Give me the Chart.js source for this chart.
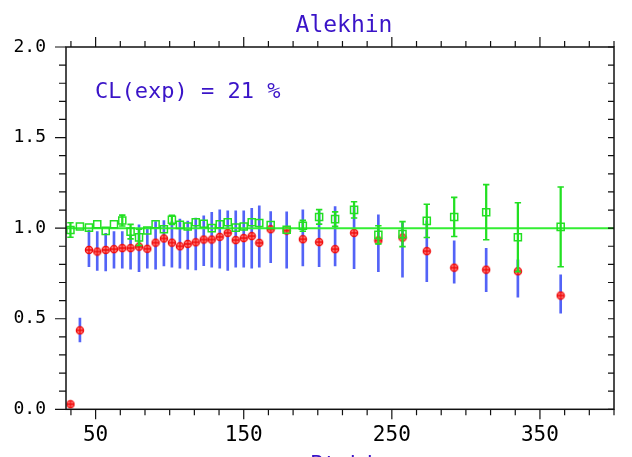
<!DOCTYPE html>
<html>
<head>
<meta charset="utf-8">
<script src="https://cdn.jsdelivr.net/npm/chart.js@4/dist/chart.umd.min.js"></script>
<style>
html, body { margin: 0; padding: 0; background: #fff; }
</style>
</head>
<body>
<canvas id="myChart" width="632" height="457"></canvas>
<script>
// bin centres (x)
const binCenters = [33.0, 39.4, 45.5, 51.1, 56.8, 62.4, 68.0, 73.6, 79.3, 84.9, 90.5, 96.1,
    101.5, 106.9, 112.2, 117.6, 123.0, 128.4, 133.8, 139.2, 144.6, 150.0, 155.4, 160.5,
    168.2, 179.0, 189.9, 200.9, 211.7, 224.5, 240.9, 257.2, 273.6, 292.1, 313.7, 335.1, 364.0];
// red circles
const ratioData = [0.028, 0.436, 0.880, 0.871, 0.880, 0.884, 0.890, 0.890, 0.898, 0.886, 0.920, 0.943,
    0.920, 0.900, 0.913, 0.922, 0.937, 0.937, 0.952, 0.974, 0.934, 0.945, 0.956, 0.919,
    0.994, 0.987, 0.939, 0.923, 0.884, 0.974, 0.932, 0.948, 0.873, 0.782, 0.771, 0.762, 0.628];
// blue bars (low / high ends)
const bandLow = [0.020, 0.372, 0.788, 0.766, 0.764, 0.779, 0.779, 0.773, 0.760, 0.779, 0.773, 0.792,
    0.785, 0.779, 0.773, 0.770, 0.793, 0.785, 0.779, 0.766, 0.785, 0.785, 0.779, 0.785,
    0.810, 0.779, 0.792, 0.788, 0.792, 0.777, 0.760, 0.729, 0.705, 0.696, 0.650, 0.619, 0.530];
const bandHigh = [0.036, 0.503, 0.990, 0.981, 0.972, 0.981, 0.981, 0.963, 1.018, 1.003, 1.036, 1.042,
    1.036, 1.050, 1.039, 1.055, 1.068, 1.088, 1.101, 1.096, 1.096, 1.096, 1.110, 1.123,
    1.092, 1.090, 1.101, 1.096, 1.119, 1.120, 1.073, 1.030, 1.040, 0.930, 0.889, 0.825, 0.742];
// green squares and their errors
const ratioFit = [0.990, 1.009, 1.003, 1.022, 0.985, 1.022, 1.042, 0.981, 0.949, 0.987, 1.022, 0.994,
    1.046, 1.018, 1.009, 1.033, 1.024, 1.000, 1.022, 1.033, 1.003, 1.009, 1.033, 1.028,
    1.017, 0.991, 1.013, 1.062, 1.050, 1.101, 0.963, 0.967, 1.040, 1.062, 1.088, 0.950, 1.007];
const fitErr = [0.040, 0.012, 0.010, 0.010, 0.010, 0.012, 0.030, 0.040, 0.045, 0.010, 0.010, 0.010,
    0.025, 0.010, 0.010, 0.012, 0.010, 0.012, 0.010, 0.015, 0.010, 0.012, 0.015, 0.010,
    0.015, 0.015, 0.030, 0.040, 0.040, 0.045, 0.050, 0.069, 0.092, 0.108, 0.152, 0.190, 0.220];

const xTickLabels = [50, 150, 250, 350];
const yTickLabels = [0, 0.5, 1.0, 1.5, 2.0];
const xMin = 30, xMax = 400;
const refLevel = 1;

const textBlue = '#3a14c8';
const green = '#22e022';
const mono = '"DejaVu Sans Mono", monospace';

function makeDot() {
    let c = document.createElement('canvas');
    c.width = 10; c.height = 10;
    let g = c.getContext('2d');
    g.fillStyle = '#ff8080';
    g.beginPath(); g.arc(5, 5, 3.6, 0, Math.PI * 2); g.fill();
    g.strokeStyle = '#f00a0a'; g.lineWidth = 1.3;
    g.stroke();
    g.beginPath();
    g.moveTo(5, 1.6); g.lineTo(5, 8.4);
    g.moveTo(1.6, 5); g.lineTo(8.4, 5);
    g.stroke();
    return c;
}

// only bars that stick out of the square get drawn
let bigErr = binCenters.map((x, i) => i).filter(i => fitErr[i] > 0.02);

// frame, ticks on all four sides and free text
const frame = {
    id: 'frame',
    afterDraw(chart) {
        let {ctx, chartArea: a, scales: {x, y}} = chart;
        ctx.save();
        ctx.strokeStyle = '#111';
        ctx.lineWidth = 1.5;
        ctx.strokeRect(a.left, a.top, a.right - a.left, a.bottom - a.top);
        ctx.lineWidth = 1.2;
        ctx.beginPath();
        for (let k = -1; k <= 21; k++) {
            let px = x.getPixelForValue(50 + k * 50 / 3);
            let len = (k % 6 === 0) ? 10 : 6;
            ctx.moveTo(px, a.bottom); ctx.lineTo(px, a.bottom + len);
            ctx.moveTo(px, a.top); ctx.lineTo(px, a.top - len);
        }
        for (let k = 0; k <= 20; k++) {
            let py = y.getPixelForValue(k / 10);
            let len = (k % 5 === 0) ? 11 : 7;
            ctx.moveTo(a.left, py); ctx.lineTo(a.left - len, py);
            ctx.moveTo(a.right, py); ctx.lineTo(a.right - 6, py);
        }
        ctx.stroke();

        ctx.fillStyle = textBlue;
        ctx.textBaseline = 'alphabetic';
        ctx.font = '23px ' + mono;
        ctx.textAlign = 'center';
        ctx.fillText('Alekhin', 344, 32);
        ctx.font = '22px ' + mono;
        ctx.textAlign = 'left';
        ctx.fillText('CL(exp) = 21 %', 95, 98);
        ctx.fillText('Pt bin', 310, 471);
        ctx.restore();
    }
};

let ctx = document.getElementById('myChart');
let myChart = new Chart(ctx, {
    type: 'scatter',
    data: {
        datasets: [{
            type: 'line',
            data: [{x: xMin, y: refLevel}, {x: xMax, y: refLevel}],
            borderColor: '#33ee33',
            borderWidth: 2,
            pointRadius: 0,
            order: 4
        }, {
            type: 'bar',
            data: binCenters.map((x, i) => ({x: x, y: [bandLow[i], bandHigh[i]]})),
            backgroundColor: 'rgba(40, 60, 245, 0.8)',
            barThickness: 2,
            grouped: false,
            order: 6
        }, {
            data: binCenters.map((x, i) => ({x: x, y: ratioData[i]})),
            pointStyle: makeDot(),
            order: 5
        }, {
            type: 'bar',
            data: bigErr.map(i => ({x: binCenters[i], y: [ratioFit[i] - fitErr[i], ratioFit[i] + fitErr[i]]})),
            backgroundColor: green,
            barThickness: 1.6,
            grouped: false,
            order: 3
        }, {
            data: bigErr.map(i => ({x: binCenters[i], y: ratioFit[i] - fitErr[i]}))
                .concat(bigErr.map(i => ({x: binCenters[i], y: ratioFit[i] + fitErr[i]}))),
            pointStyle: 'line',
            pointRadius: 3.2,
            borderColor: green,
            borderWidth: 1.6,
            order: 2
        }, {
            data: binCenters.map((x, i) => ({x: x, y: ratioFit[i]})),
            pointStyle: 'rect',
            pointRadius: 5,
            borderColor: green,
            backgroundColor: 'rgba(0,0,0,0)',
            borderWidth: 1.5,
            order: 1
        }]
    },
    options: {
        responsive: false,
        animation: false,
        events: [],
        layout: {padding: {top: 47, right: 18, left: 0, bottom: 0}},
        plugins: {legend: {display: false}, tooltip: {enabled: false}},
        scales: {
            x: {
                type: 'linear',
                min: xMin,
                max: xMax,
                offset: false,
                border: {display: false},
                grid: {display: false, drawTicks: false, offset: false},
                afterBuildTicks: s => { s.ticks = xTickLabels.map(v => ({value: v})); },
                afterFit: s => { s.height = 47.7; },
                ticks: {
                    color: '#000',
                    padding: 14,
                    maxRotation: 0,
                    autoSkip: false,
                    font: {family: mono, size: 21},
                    callback: v => String(v)
                }
            },
            y: {
                type: 'linear',
                min: 0,
                max: 2,
                border: {display: false},
                grid: {display: false, drawTicks: false},
                afterBuildTicks: s => { s.ticks = yTickLabels.map(v => ({value: v})); },
                afterFit: s => { s.width = 66; },
                ticks: {
                    color: '#000',
                    padding: 20,
                    font: {family: mono, size: 18},
                    callback: v => Number(v).toFixed(1)
                }
            }
        }
    },
    plugins: [frame]
});
</script>
</body>
</html>
